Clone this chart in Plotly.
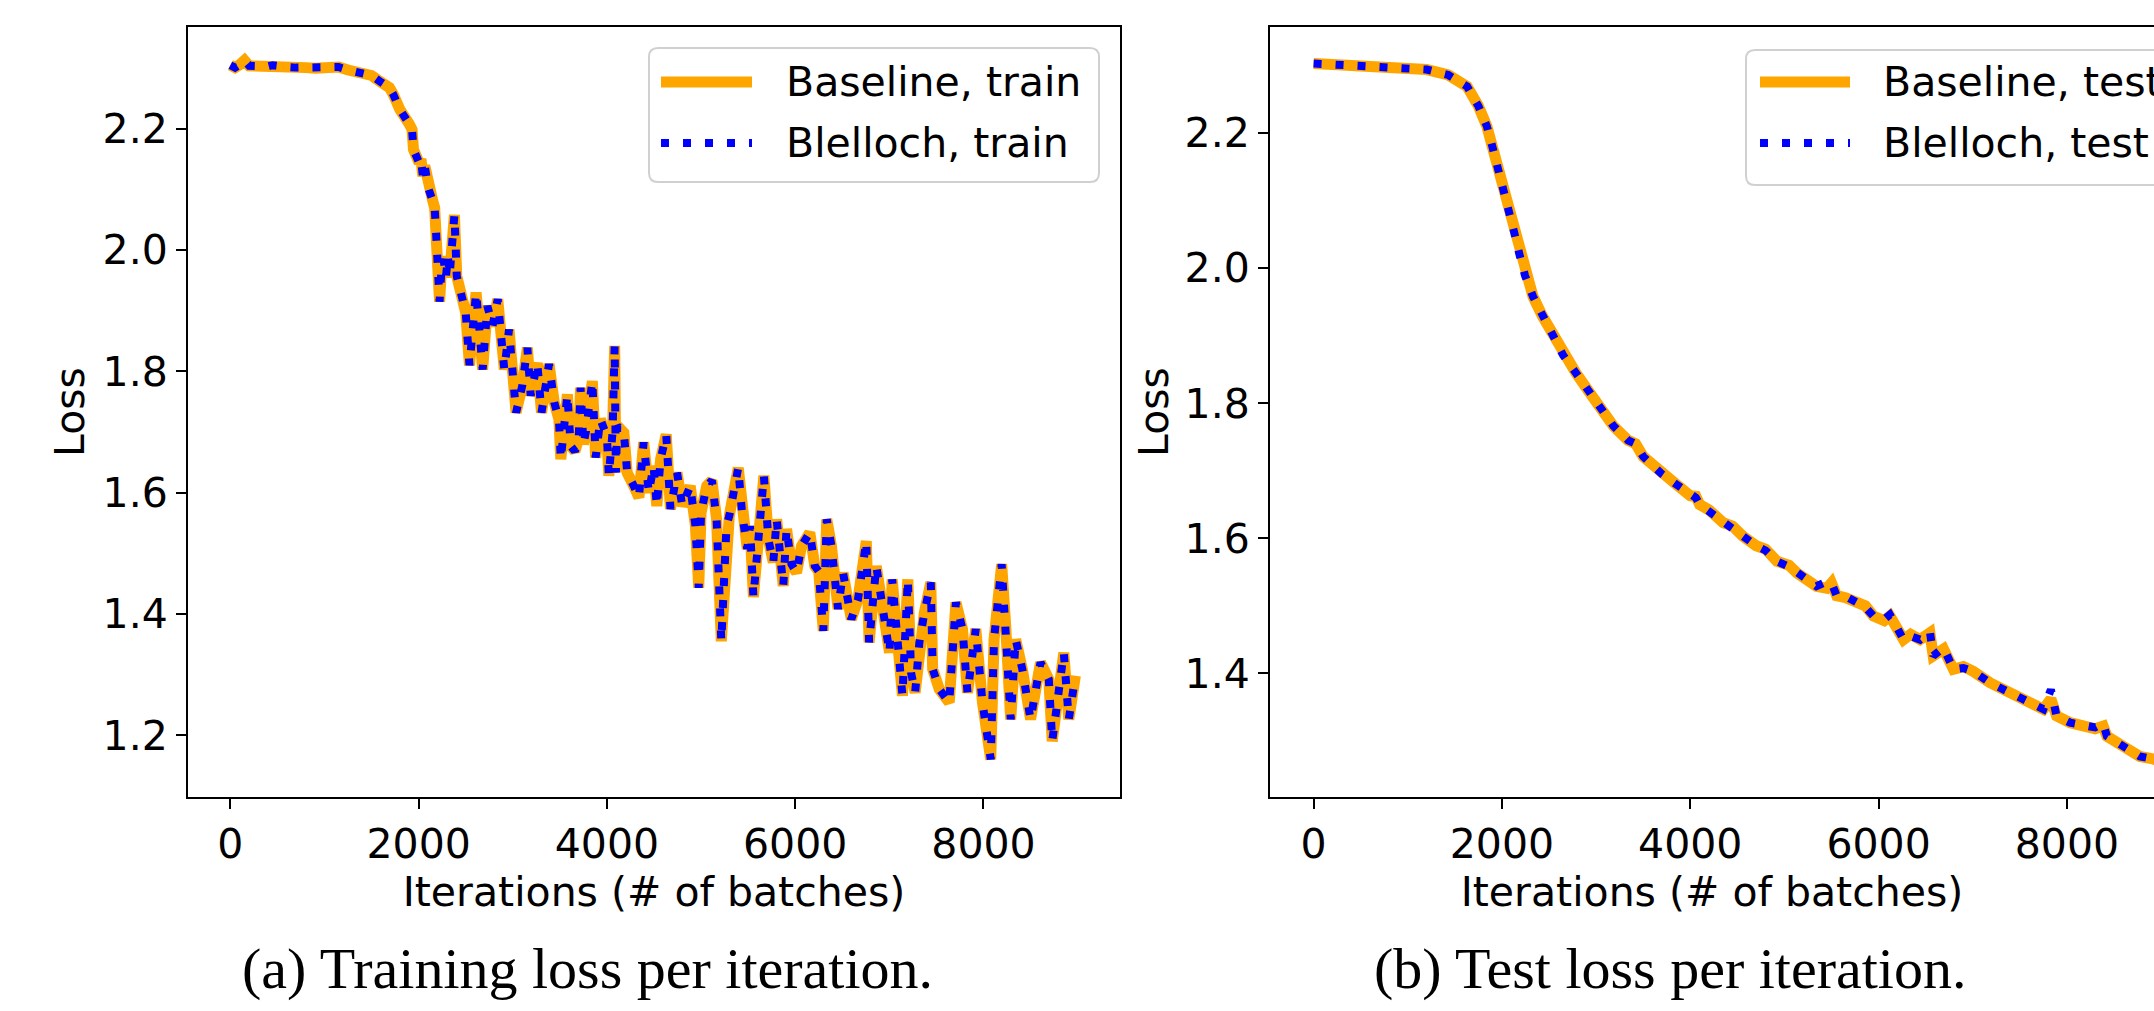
import plotly.graph_objects as go

# ---------------- data ----------------
train_iters = [0, 50, 100, 150, 200, 250, 300, 400, 450, 500, 600, 700, 800, 900, 1000, 1100, 1150,
               1250, 1350, 1450, 1500, 1600, 1690, 1730, 1800, 1900, 1930, 1945, 1975, 2005, 2025,
               2045, 2065, 2100, 2150, 2170, 2185, 2200, 2222, 2245, 2265, 2290, 2310, 2330, 2355,
               2380, 2405, 2435, 2500, 2540, 2575, 2610, 2645, 2680, 2730, 2785, 2840, 2875, 2910,
               2960, 3000, 3035, 3100, 3155, 3190, 3260, 3305, 3385, 3440, 3490, 3510, 3545, 3580,
               3615, 3660, 3700, 3720, 3750, 3775, 3845, 3880, 3930, 4000, 4020, 4060, 4082, 4095,
               4110, 4180, 4215, 4285, 4340, 4390, 4445, 4495, 4530, 4570, 4630, 4675, 4745, 4800,
               4885, 4940, 4975, 5000, 5060, 5115, 5165, 5215, 5270, 5300, 5395, 5435, 5490, 5520,
               5556, 5609, 5667, 5715, 5767, 5803, 5873, 5908, 5960, 6014, 6067, 6155, 6208, 6250,
               6298, 6335, 6385, 6455, 6508, 6596, 6667, 6755, 6785, 6861, 6931, 7002, 7030, 7108,
               7139, 7196, 7231, 7274, 7319, 7372, 7440, 7460, 7530, 7636, 7707, 7777, 7830, 7918,
               7989, 8077, 8112, 8193, 8236, 8289, 8342, 8412, 8500, 8606, 8694, 8730, 8853, 8906,
               8976]

baseline_train_loss = [2.305, 2.301, 2.306, 2.313, 2.304, 2.304, 2.301, 2.303, 2.305, 2.303, 2.302,
                       2.301, 2.301, 2.300, 2.300, 2.301, 2.302, 2.297, 2.294, 2.290, 2.288, 2.277,
                       2.268, 2.257, 2.232, 2.208, 2.199, 2.166, 2.155, 2.144, 2.150, 2.122, 2.139,
                       2.103, 2.081, 2.070, 2.029, 1.990, 1.915, 1.975, 1.985, 1.955, 1.990, 1.960,
                       2.020, 2.058, 1.957, 1.935, 1.897, 1.810, 1.880, 1.930, 1.870, 1.803, 1.908,
                       1.875, 1.919, 1.858, 1.803, 1.869, 1.787, 1.732, 1.776, 1.839, 1.760, 1.814,
                       1.732, 1.812, 1.749, 1.721, 1.655, 1.720, 1.762, 1.677, 1.668, 1.690, 1.773,
                       1.680, 1.699, 1.784, 1.658, 1.721, 1.693, 1.628, 1.700, 1.842, 1.633, 1.710,
                       1.699, 1.633, 1.611, 1.592, 1.683, 1.600, 1.644, 1.578, 1.655, 1.696, 1.573,
                       1.633, 1.578, 1.611, 1.545, 1.443, 1.567, 1.611, 1.620, 1.556, 1.355, 1.545,
                       1.562, 1.641, 1.567, 1.507, 1.545, 1.428, 1.523, 1.628, 1.523, 1.485, 1.556,
                       1.446, 1.540, 1.482, 1.468, 1.512, 1.534, 1.479, 1.470, 1.372, 1.556, 1.512,
                       1.408, 1.468, 1.391, 1.424, 1.520, 1.353, 1.479, 1.402, 1.336, 1.457, 1.303,
                       1.265, 1.457, 1.303, 1.270, 1.353, 1.402, 1.452, 1.309, 1.276, 1.254, 1.419,
                       1.375, 1.270, 1.375, 1.254, 1.160, 1.358, 1.482, 1.380, 1.226, 1.358, 1.309,
                       1.226, 1.320, 1.292, 1.190, 1.336, 1.226, 1.298]

blelloch_train_loss = [2.305, 2.301, 2.306, 2.313, 2.304, 2.304, 2.301, 2.303, 2.305, 2.303, 2.302,
                       2.301, 2.301, 2.300, 2.300, 2.301, 2.302, 2.297, 2.294, 2.290, 2.288, 2.277,
                       2.268, 2.257, 2.232, 2.208, 2.199, 2.166, 2.155, 2.144, 2.150, 2.122, 2.139,
                       2.103, 2.081, 2.070, 2.029, 1.990, 1.915, 1.975, 1.985, 1.955, 1.990, 1.960,
                       2.020, 2.058, 1.957, 1.935, 1.897, 1.810, 1.880, 1.930, 1.870, 1.803, 1.908,
                       1.875, 1.919, 1.858, 1.803, 1.869, 1.787, 1.732, 1.776, 1.839, 1.760, 1.814,
                       1.732, 1.812, 1.749, 1.721, 1.655, 1.720, 1.762, 1.677, 1.668, 1.690, 1.773,
                       1.680, 1.699, 1.784, 1.658, 1.721, 1.693, 1.628, 1.700, 1.842, 1.633, 1.710,
                       1.699, 1.633, 1.611, 1.592, 1.683, 1.600, 1.644, 1.578, 1.655, 1.696, 1.573,
                       1.633, 1.578, 1.611, 1.545, 1.443, 1.567, 1.611, 1.620, 1.556, 1.355, 1.545,
                       1.562, 1.641, 1.567, 1.507, 1.545, 1.428, 1.523, 1.628, 1.523, 1.485, 1.556,
                       1.446, 1.540, 1.482, 1.468, 1.512, 1.534, 1.479, 1.470, 1.372, 1.556, 1.512,
                       1.408, 1.468, 1.391, 1.424, 1.520, 1.353, 1.479, 1.402, 1.336, 1.457, 1.303,
                       1.265, 1.457, 1.303, 1.270, 1.353, 1.402, 1.452, 1.309, 1.276, 1.254, 1.419,
                       1.375, 1.270, 1.375, 1.254, 1.160, 1.358, 1.482, 1.380, 1.226, 1.358, 1.309,
                       1.226, 1.320, 1.292, 1.190, 1.336, 1.226, 1.298]

test_iters = [0, 500, 970, 1200, 1430, 1630, 1750, 1840, 1900, 1960, 2025, 2080, 2130, 2185, 2245,
              2330, 2430, 2545, 2650, 2785, 2920, 3040, 3185, 3340, 3420, 3500, 3700, 3850, 4000,
              4060, 4100, 4200, 4350, 4450, 4560, 4700, 4800, 4920, 5050, 5130, 5340, 5450, 5500,
              5555, 5650, 5770, 5860, 5945, 6060, 6120, 6265, 6340, 6440, 6545, 6580, 6690, 6795,
              6900, 7005, 7185, 7395, 7610, 7750, 7830, 7890, 8035, 8175, 8300, 8385, 8425, 8600,
              8775, 8925, 9000]

baseline_test_loss = [2.303, 2.300, 2.296, 2.294, 2.286, 2.269, 2.240, 2.210, 2.179, 2.148, 2.116,
                      2.083, 2.053, 2.021, 1.989, 1.958, 1.929, 1.901, 1.871, 1.845, 1.818, 1.791,
                      1.766, 1.745, 1.740, 1.721, 1.695, 1.680, 1.663, 1.662, 1.650, 1.642, 1.623,
                      1.618, 1.603, 1.589, 1.584, 1.566, 1.560, 1.549, 1.529, 1.526, 1.534, 1.515,
                      1.512, 1.505, 1.500, 1.485, 1.478, 1.485, 1.450, 1.458, 1.450, 1.460, 1.426,
                      1.436, 1.406, 1.410, 1.403, 1.386, 1.371, 1.356, 1.347, 1.362, 1.337, 1.327,
                      1.322, 1.318, 1.322, 1.307, 1.292, 1.277, 1.273, 1.268]

blelloch_test_loss = [2.303, 2.300, 2.296, 2.294, 2.286, 2.269, 2.240, 2.210, 2.179, 2.148, 2.116,
                      2.083, 2.053, 2.021, 1.989, 1.958, 1.929, 1.901, 1.871, 1.845, 1.818, 1.791,
                      1.766, 1.745, 1.740, 1.721, 1.695, 1.680, 1.663, 1.660, 1.650, 1.640, 1.623,
                      1.616, 1.603, 1.589, 1.582, 1.566, 1.558, 1.549, 1.529, 1.536, 1.534, 1.515,
                      1.514, 1.505, 1.498, 1.485, 1.480, 1.487, 1.450, 1.455, 1.450, 1.462, 1.426,
                      1.438, 1.406, 1.408, 1.403, 1.386, 1.371, 1.356, 1.347, 1.376, 1.337, 1.327,
                      1.322, 1.320, 1.326, 1.307, 1.292, 1.277, 1.273, 1.268]

x_tick_values = [0, 2000, 4000, 6000, 8000]
train_y_ticks = [1.2, 1.4, 1.6, 1.8, 2.0, 2.2]
test_y_ticks = [1.4, 1.6, 1.8, 2.0, 2.2]

series_names = ["Baseline, train", "Blelloch, train", "Baseline, test", "Blelloch, test"]
captions = ["(a) Training loss per iteration.", "(b) Test loss per iteration."]
x_title = "Iterations (# of batches)"
y_title = "Loss"

# ---------------- styling / layout ----------------
W, H = 2154, 1011
ORANGE = "#FFA500"
BLUE = "#0000FF"
SANS = "DejaVu Sans"
SERIF = "Liberation Serif"
FS = 41


def px(x):
    return x / W


def py(y):
    return 1 - y / H


fig = go.Figure()

fig.add_trace(go.Scatter(x=train_iters, y=baseline_train_loss, mode="lines", name=series_names[0],
                         line=dict(color=ORANGE, width=11), showlegend=False, xaxis="x", yaxis="y"))
fig.add_trace(go.Scatter(x=train_iters, y=blelloch_train_loss, mode="lines", name=series_names[1],
                         line=dict(color=BLUE, width=8, dash="8px,14px"), showlegend=False,
                         xaxis="x", yaxis="y"))
fig.add_trace(go.Scatter(x=test_iters, y=baseline_test_loss, mode="lines", name=series_names[2],
                         line=dict(color=ORANGE, width=11), showlegend=False, xaxis="x2", yaxis="y2"))
fig.add_trace(go.Scatter(x=test_iters, y=blelloch_test_loss, mode="lines", name=series_names[3],
                         line=dict(color=BLUE, width=8, dash="8px,14px"), showlegend=False,
                         xaxis="x2", yaxis="y2"))

plot_top, plot_bottom = 27, 797
axis_common = dict(showgrid=False, zeroline=False, showline=True, linecolor="black", linewidth=2,
                   ticks="outside", ticklen=10, tickwidth=2, tickcolor="black",
                   tickfont=dict(family=SANS, size=FS, color="black"))

fig.update_layout(
    width=W, height=H, margin=dict(l=0, r=0, t=0, b=0),
    paper_bgcolor="white", plot_bgcolor="white", showlegend=False,
    xaxis=dict(domain=[px(188), px(1120)], range=[-450, 9450], anchor="y", mirror=True,
               tickvals=x_tick_values, ticktext=[str(v) for v in x_tick_values],
               title=dict(text=x_title, font=dict(family=SANS, size=FS, color="black"), standoff=8),
               **axis_common),
    yaxis=dict(domain=[py(plot_bottom), py(plot_top)], range=[1.098, 2.368], anchor="x", mirror=True,
               tickvals=train_y_ticks, ticktext=[f"{v:.1f}" for v in train_y_ticks],
               title=dict(text=y_title, font=dict(family=SANS, size=FS, color="black"), standoff=5),
               **axis_common),
    xaxis2=dict(domain=[px(1270), 1.0], range=[-463, 8925], anchor="y2", mirror=True,
                tickvals=x_tick_values, ticktext=[str(v) for v in x_tick_values],
                title=dict(text=x_title, font=dict(family=SANS, size=FS, color="black"), standoff=8),
                **axis_common),
    yaxis2=dict(domain=[py(plot_bottom), py(plot_top)], range=[1.217, 2.357], anchor="x2", mirror=False,
                tickvals=test_y_ticks, ticktext=[f"{v:.1f}" for v in test_y_ticks],
                title=dict(text=y_title, font=dict(family=SANS, size=FS, color="black"), standoff=3),
                **axis_common),
)


# ---------------- legends (drawn as boxes + samples + text) ----------------
def rounded_box(x0, y0, x1, y1, r=9):
    X = lambda v: px(v)
    Y = lambda v: py(v)
    return (f"M{X(x0 + r)},{Y(y0)} L{X(x1 - r)},{Y(y0)} Q{X(x1)},{Y(y0)} {X(x1)},{Y(y0 + r)} "
            f"L{X(x1)},{Y(y1 - r)} Q{X(x1)},{Y(y1)} {X(x1 - r)},{Y(y1)} "
            f"L{X(x0 + r)},{Y(y1)} Q{X(x0)},{Y(y1)} {X(x0)},{Y(y1 - r)} "
            f"L{X(x0)},{Y(y0 + r)} Q{X(x0)},{Y(y0)} {X(x0 + r)},{Y(y0)} Z")


legends = [
    dict(box=(649, 48, 1099, 182), line=(661, 752), rows=(82, 143), text_x=784,
         labels=(series_names[0], series_names[1])),
    dict(box=(1746, 50, 2200, 185), line=(1760, 1850), rows=(82, 143), text_x=1881,
         labels=(series_names[2], series_names[3])),
]

shapes = []
annotations = []
for lg in legends:
    x0, y0, x1, y1 = lg["box"]
    shapes.append(dict(type="path", xref="paper", yref="paper", path=rounded_box(x0, y0, x1, y1),
                       line=dict(color="#D0D0D0", width=2), fillcolor="rgba(255,255,255,0.8)", layer="above"))
    lx0, lx1 = lg["line"]
    r1, r2 = lg["rows"]
    shapes.append(dict(type="line", xref="paper", yref="paper", x0=px(lx0), x1=px(lx1), y0=py(r1), y1=py(r1),
                       line=dict(color=ORANGE, width=11), layer="above"))
    shapes.append(dict(type="line", xref="paper", yref="paper", x0=px(lx0), x1=px(lx1), y0=py(r2), y1=py(r2),
                       line=dict(color=BLUE, width=8, dash="8px,14px"), layer="above"))
    for row, lab in zip((r1, r2), lg["labels"]):
        annotations.append(dict(xref="paper", yref="paper", x=px(lg["text_x"]), y=py(row), text=lab,
                                showarrow=False, xanchor="left", yanchor="middle",
                                font=dict(family=SANS, size=FS, color="black")))

for cx, cap in zip((587, 1670), captions):
    annotations.append(dict(xref="paper", yref="paper", x=px(cx), y=py(968), text=cap, showarrow=False,
                            xanchor="center", yanchor="middle",
                            font=dict(family=SERIF, size=58, color="black")))

fig.update_layout(shapes=shapes, annotations=annotations)

fig.write_html("out.html")
